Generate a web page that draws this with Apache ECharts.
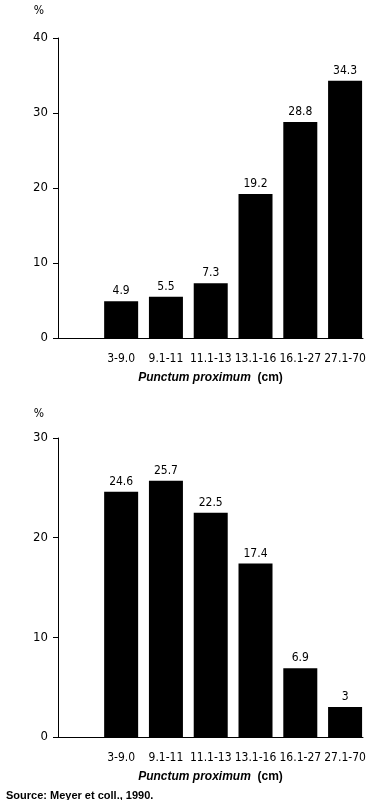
<!DOCTYPE html>
<html>
<head>
<meta charset="utf-8">
<script src="https://cdn.jsdelivr.net/npm/echarts@6/dist/echarts.min.js"></script>
<style>
  html, body { margin: 0; padding: 0; background: #fff; }
  #chart { width: 377px; height: 800px; }
</style>
</head>
<body>
<div id="chart"></div>
<script>
const categories = ['3-9.0', '9.1-11', '11.1-13', '13.1-16', '16.1-27', '27.1-70'];
const valuesTop = [4.9, 5.5, 7.3, 19.2, 28.8, 34.3];
const valuesBottom = [24.6, 25.7, 22.5, 17.4, 6.9, 3];
const ticksTop = { max: 40, interval: 10 };
const ticksBottom = { max: 30, interval: 10 };

const narrow = "'DejaVu Sans Condensed', 'Liberation Sans Narrow', sans-serif";
const arial = "'Liberation Sans', Arial, sans-serif";

const chart = echarts.init(document.getElementById('chart'));

const makeX = (gridIndex) => ({
  type: 'value',
  gridIndex,
  min: -0.41,
  max: 6.4,
  axisLine: { show: true, onZero: false, lineStyle: { color: '#000', width: 1 } },
  axisTick: { show: false },
  splitLine: { show: false },
  axisLabel: {
    customValues: [1, 2, 3, 4, 5, 6],
    formatter: (v) => categories[v - 1] || '',
    showMinLabel: true,
    showMaxLabel: true,
    hideOverlap: false,
    margin: 15,
    color: '#000',
    fontSize: 12,
    fontFamily: narrow
  },
  name: '{i|Punctum proximum}  {n|(cm)}',
  nameLocation: 'middle',
  nameGap: 34,
  nameTextStyle: {
    rich: {
      i: { fontStyle: 'italic', fontWeight: 'bold', fontSize: 12, fontFamily: arial, color: '#000' },
      n: { fontWeight: 'bold', fontSize: 12, fontFamily: arial, color: '#000' }
    }
  }
});

const makeY = (gridIndex, ticks, nameGap) => ({
  type: 'value',
  gridIndex,
  min: 0,
  max: ticks.max,
  interval: ticks.interval,
  axisLine: { show: true, onZero: false, lineStyle: { color: '#000', width: 1 } },
  axisTick: { show: true, length: 5, lineStyle: { color: '#000' } },
  splitLine: { show: false },
  axisLabel: { color: '#000', fontSize: 13, fontFamily: narrow, margin: 10 },
  name: '%',
  nameLocation: 'end',
  nameGap,
  nameTextStyle: { color: '#000', fontSize: 12, fontFamily: narrow, align: 'right', padding: [0, 14, 0, 0] }
});

const makeBars = (idx, values) => ({
  type: 'bar',
  xAxisIndex: idx,
  yAxisIndex: idx,
  barWidth: 34,
  data: values.map((v, i) => [i + 1, v]),
  itemStyle: { color: '#000' },
  label: {
    show: true,
    position: 'top',
    distance: 4,
    color: '#000',
    fontSize: 12,
    fontFamily: narrow,
    formatter: (p) => p.value[1]
  }
});

chart.setOption({
  animation: false,
  title: {
    text: 'Source: Meyer et coll., 1990.',
    left: 6,
    top: 790,
    padding: 0,
    textStyle: { fontSize: 11, fontWeight: 'bold', fontFamily: arial, color: '#000' }
  },
  grid: [
    { left: 58, top: 38, width: 305, height: 300 },
    { left: 58, top: 438, width: 305, height: 299 }
  ],
  xAxis: [makeX(0), makeX(1)],
  yAxis: [makeY(0, ticksTop, 21), makeY(1, ticksBottom, 18)],
  series: [makeBars(0, valuesTop), makeBars(1, valuesBottom)]
});
</script>
</body>
</html>
